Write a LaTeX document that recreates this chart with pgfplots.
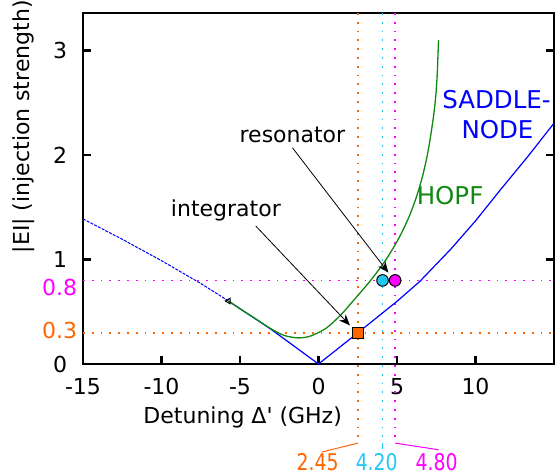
\documentclass[border=0pt]{standalone}
\usepackage{fontspec}
\setmainfont{DejaVu Sans}
\usepackage{graphicx}
\usepackage{pgfplots}
\pgfplotsset{compat=1.18}
\usetikzlibrary{arrows.meta}

\definecolor{myorange}{HTML}{FF6600}
\definecolor{mycyan}{HTML}{22C8F0}
\definecolor{mymagenta}{HTML}{FF00FF}
\definecolor{myblue}{HTML}{0000FF}
\definecolor{mygreen}{HTML}{118811}

\tikzset{guide/.style={line width=1.8bp, dash pattern=on 1.8bp off 7bp}}

\begin{document}
\begin{tikzpicture}[font=\fontsize{22bp}{26bp}\selectfont]
\begin{axis}[
    scale only axis,
    width=471bp, height=351bp,
    xmin=-15, xmax=15,
    ymin=0, ymax=3.36,
    clip=false,
    axis line style={line width=2.4bp},
    tick align=inside,
    major tick length=8bp,
    every tick/.style={black, line width=2.4bp},
    xtick={-15,-10,-5,0,5,10},
    xticklabels={-15,-10,-5,0,5,10},
    ytick={0,1,2,3},
    yticklabels={0,1,2,3},
    xtick pos=left, ytick pos=both,
    xticklabel style={yshift=-11bp},
    yticklabel style={xshift=-12.4bp},
]
    % guide lines
    \addplot[myorange, guide] coordinates {(-15,0.3) (15,0.3)};
    \addplot[mymagenta, guide] coordinates {(-15,0.8) (15,0.8)};
    \addplot[myorange, guide] coordinates {(2.52,3.36) (2.52,-0.757)};
    \addplot[mycyan, guide] coordinates {(4.08,3.36) (4.08,-0.757)};
    \addplot[mymagenta, guide] coordinates {(4.88,3.36) (4.88,-0.757)};

    % leaders to the value labels
    \addplot[myorange, line width=1bp] coordinates {(2.52,-0.757) (0.2,-0.843)};
    \addplot[mycyan, line width=1bp] coordinates {(4.08,-0.757) (4.08,-0.815)};
    \addplot[mymagenta, line width=1bp] coordinates {(4.88,-0.757) (7.65,-0.821)};

    % saddle-node, unstable part dashed
    \addplot[myblue, line width=1bp, dash pattern=on 3bp off 1.2bp] coordinates {
        (-15,1.389) (-12.5,1.194) (-10,0.989) (-7.5,0.771) (-5.73,0.603)
    };
    \addplot[myblue, line width=1.2bp] coordinates {
        (-5.73,0.603) (-4.3,0.46) (-3,0.33) (-1.5,0.165) (0,0)
        (2.52,0.30) (5,0.60) (6.45,0.79) (8.43,1.10) (10,1.37)
        (11.6,1.67) (13.3,1.98) (15,2.305)
    };

    % hopf
    \addplot[mygreen, line width=1.3bp, smooth, tension=0.5] coordinates {
        (-5.73,0.603) (-5,0.528) (-4,0.432) (-3,0.335) (-2.2,0.274)
        (-1.3,0.25) (-0.5,0.268) (0.5,0.344) (1.42,0.47) (2.18,0.60)
        (3.32,0.80) (4.30,1.0) (5.10,1.2) (5.74,1.4) (6.24,1.6)
        (6.63,1.8) (6.93,2.0) (7.16,2.2) (7.35,2.4) (7.49,2.6)
        (7.57,2.8) (7.62,3.0) (7.645,3.1)
    };

    % markers
    \addplot[only marks, mark=triangle, mark size=3.2bp,
        mark options={rotate=90, draw=black, line width=1bp}] coordinates {(-5.73,0.603)};
    \addplot[only marks, mark=square*, mark size=5.5bp,
        mark options={fill=myorange, draw=black, line width=1bp}] coordinates {(2.52,0.30)};
    \addplot[only marks, mark=*, mark size=5.8bp,
        mark options={fill=mycyan, draw=black, line width=1bp}] coordinates {(4.08,0.80)};
    \addplot[only marks, mark=*, mark size=5.8bp,
        mark options={fill=mymagenta, draw=black, line width=1bp}] coordinates {(4.88,0.80)};

    % annotations
    \draw[black, line width=0.8bp, -{Stealth[length=11bp,width=9bp]}]
        (axis cs:-1.66,2.07) -- (axis cs:4.45,0.875);
    \draw[black, line width=0.8bp, -{Stealth[length=11bp,width=9bp]}]
        (axis cs:-3.99,1.32) -- (axis cs:2.0,0.37);
    \node[anchor=base] at (axis cs:-1.66,2.117) {resonator};
    \node[anchor=base] at (axis cs:-5.9,1.414) {integrator};
    \node[anchor=base, text=myblue, font=\fontsize{24.5bp}{29bp}\selectfont]
        at (axis cs:11.34,2.443) {SADDLE-};
    \node[anchor=base, text=myblue, font=\fontsize{24.5bp}{29bp}\selectfont]
        at (axis cs:11.4,2.155) {NODE};
    \node[anchor=base, text=mygreen, font=\fontsize{24.5bp}{29bp}\selectfont]
        at (axis cs:8.38,1.526) {HOPF};

    % coloured values
    \node[anchor=east, inner sep=0pt, text=mymagenta] at (axis cs:-15,0.735) [xshift=-5.7bp] {0.8};
    \node[anchor=east, inner sep=0pt, text=myorange] at (axis cs:-15,0.319) [xshift=-5.7bp] {0.3};
    \node[anchor=base, text=myorange, font=\fontsize{23bp}{27bp}\selectfont]
        at (axis cs:-0.06,-1.022) {\scalebox{0.82}[1]{2.45}};
    \node[anchor=base, text=mycyan, font=\fontsize{23bp}{27bp}\selectfont]
        at (axis cs:3.71,-1.022) {\scalebox{0.82}[1]{4.20}};
    \node[anchor=base, text=mymagenta, font=\fontsize{23bp}{27bp}\selectfont]
        at (axis cs:7.53,-1.022) {\scalebox{0.82}[1]{4.80}};

    % axis titles
    \node[rotate=90] at (axis description cs:-0.1253,0.676) {|EI| (injection strength)};
    \node[anchor=base] at (axis description cs:0.339,-0.170) {Detuning Δ\textquotesingle{} (GHz)};
\end{axis}
\pgfresetboundingbox
\path[use as bounding box] ([shift={(-83bp,-111.7bp)}]current axis.south west)
    rectangle ([shift={(2bp,13bp)}]current axis.north east);
\end{tikzpicture}
\end{document}
